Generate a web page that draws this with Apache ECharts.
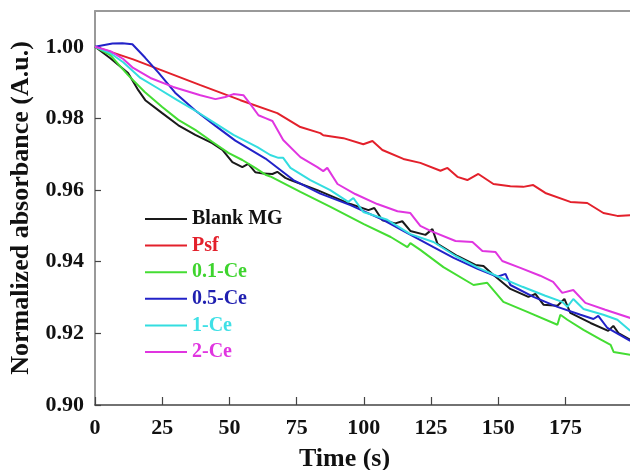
<!DOCTYPE html>
<html>
<head>
<meta charset="utf-8">
<script src="https://cdn.jsdelivr.net/npm/echarts@6/dist/echarts.min.js"></script>
<style>html,body{margin:0;padding:0;background:#fff}#c{width:630px;height:470px}</style>
</head>
<body>
<div id="c"></div>
<script>
const seriesNames = ['Blank MG', 'Psf', '0.1-Ce', '0.5-Ce', '1-Ce', '2-Ce'];
const seriesColors = ['#1a1a1a', '#e3202b', '#44dd33', '#2222c8', '#33dde0', '#e035e0'];
const legendTextColors = ['#111111', '#e3202b', '#3ed42e', '#1f1fb0', '#3fe0e6', '#e035e0'];

const xTicks = [0, 25, 50, 75, 100, 125, 150, 175];
const yTicks = [0.90, 0.92, 0.94, 0.96, 0.98, 1.00];

const blankT = [0,5.7,12.3,16.1,18.7,25.0,31.0,37.3,43.6,47.4,51.1,54.8,57.0,59.6,62.6,66.0,67.8,70.8,72.7,82.7,95.0,101.7,103.9,106.9,111.7,114.3,117.3,122.9,125.5,127.4,134.8,141.5,144.5,147.8,154.5,161.2,163.8,166.8,172.0,174.6,176.8,184.3,190.9,192.8,194.7,199.1];
const blankV = [1.000,0.9968,0.9927,0.9879,0.9851,0.9815,0.9781,0.9754,0.9731,0.9712,0.9678,0.9664,0.9673,0.9650,0.9646,0.9645,0.9651,0.9634,0.9628,0.9600,0.9561,0.9544,0.9550,0.9516,0.9507,0.9513,0.9486,0.9475,0.9491,0.9450,0.9416,0.9391,0.9388,0.9366,0.9324,0.9302,0.9310,0.9280,0.9277,0.9296,0.9257,0.9229,0.9207,0.9221,0.9201,0.9182];

const psfT = [0,14.2,39.2,54.1,67.8,76.4,83.8,84.9,92.4,99.8,103.2,106.9,114.7,121.0,128.5,131.1,134.8,138.5,142.6,148.2,154.5,159.3,163.0,167.5,176.8,183.1,189.1,194.3,199.1];
const psfV = [1.000,0.9965,0.9893,0.9851,0.9815,0.9776,0.9759,0.9753,0.9745,0.9728,0.9737,0.9712,0.9687,0.9676,0.9654,0.9662,0.9637,0.9628,0.9645,0.9617,0.9611,0.9609,0.9614,0.9592,0.9567,0.9564,0.9536,0.9528,0.9530];

const ce01T = [0,5.7,12.3,18.5,25.0,31.0,37.3,43.6,49.6,54.8,59.6,63.4,65.2,76.4,87.6,100,110,116.2,117.3,121,129.6,140.8,145.9,151.9,160.8,172.0,173.1,175.7,181.7,188.0,191.8,192.9,199.1];
const ce01V = [1.000,0.9977,0.9921,0.9874,0.9832,0.9796,0.9768,0.9735,0.9704,0.9684,0.9662,0.9643,0.9638,0.9595,0.9553,0.9505,0.9469,0.9441,0.9452,0.9433,0.9385,0.9335,0.9341,0.9288,0.9260,0.9224,0.9252,0.9238,0.9210,0.9183,0.9168,0.9148,0.9140];

const ce05T = [0,6.5,10.2,13.9,18.6,23.6,29.8,37.3,44.7,52.2,63.4,73.8,83.8,95.0,107.3,116.2,125.9,133.4,142.3,149.7,152.7,154.5,163.1,172.0,180.6,185.4,187.2,190.6,199.1];
const ce05V = [1.000,1.0009,1.0010,1.0007,0.9970,0.9928,0.9872,0.9822,0.9780,0.9738,0.9688,0.9628,0.9590,0.9558,0.9516,0.9480,0.9441,0.9411,0.9380,0.9358,0.9366,0.9335,0.9302,0.9274,0.9252,0.9240,0.9249,0.9215,0.9179];

const ce1T = [0,5.7,10.5,16.9,23.2,30.6,38.1,44.0,51.5,60.4,65.2,68.2,70.0,72.7,80.1,87.5,94.2,96.1,99.8,108.7,117.3,125.9,134.1,142.6,150.1,159.0,167.5,173.8,175.7,177.9,181.7,189.1,194.3,199.1];
const ce1V = [1.000,0.9982,0.9957,0.9913,0.9885,0.9851,0.9818,0.9790,0.9754,0.9720,0.9698,0.9690,0.9690,0.9662,0.9628,0.9600,0.9567,0.9578,0.9539,0.9517,0.9477,0.9455,0.9416,0.9383,0.9358,0.9330,0.9305,0.9288,0.9274,0.9296,0.9268,0.9252,0.9238,0.9207];

const ce2T = [0,5.7,10.5,14.2,20.6,29.1,39.2,44.8,48.5,51.5,55.2,57.8,60.8,63.4,66.0,70.0,76.4,82.7,84.9,86.4,90.2,96.8,105.0,112.5,117.3,121.0,124.8,134.1,140.4,144.1,149.0,151.5,158.2,165.6,170.4,173.8,177.9,182.4,189.8,199.1];
const ce2V = [1.000,0.9988,0.9966,0.9941,0.9913,0.9888,0.9865,0.9854,0.9860,0.9868,0.9865,0.9840,0.9809,0.9801,0.9793,0.9740,0.9692,0.9664,0.9653,0.9662,0.9617,0.9589,0.9561,0.9541,0.9536,0.9500,0.9486,0.9458,0.9455,0.9430,0.9427,0.9402,0.9383,0.9361,0.9344,0.9313,0.9321,0.9285,0.9266,0.9243];

const allT = [blankT, psfT, ce01T, ce05T, ce1T, ce2T];
const allV = [blankV, psfV, ce01V, ce05V, ce1V, ce2V];

const FONT = '"Liberation Serif", "Times New Roman", serif';
const chart = echarts.init(document.getElementById('c'), null, {renderer: 'canvas'});

const series = seriesNames.map((n, i) => ({
  name: n,
  type: 'line',
  symbol: 'none',
  smooth: false,
  clip: true,
  lineStyle: {width: 2, color: seriesColors[i]},
  itemStyle: {color: seriesColors[i]},
  data: allT[i].map((t, k) => [t, allV[i][k]])
}));

chart.setOption({
  animation: false,
  backgroundColor: '#fff',
  grid: {left: 95, right: 0, top: 11, bottom: 65, containLabel: false, outerBoundsMode: 'none'},
  legend: {
    orient: 'vertical',
    left: 140,
    top: 204,
    itemWidth: 42,
    itemHeight: 2,
    itemGap: 6.6,
    icon: 'rect',
    textStyle: {fontFamily: FONT, fontWeight: 'bold', fontSize: 20, lineHeight: 20},
    data: seriesNames.map((n, i) => ({name: n, textStyle: {color: legendTextColors[i]}}))
  },
  xAxis: [{
    type: 'value',
    min: 0,
    max: 199,
    interval: 25,
    name: 'Time (s)',
    nameLocation: 'middle',
    nameGap: 41,
    nameTextStyle: {fontFamily: FONT, fontWeight: 'bold', fontSize: 26, color: '#111', padding: [0, 36, 0, 0]},
    axisLine: {show: true, lineStyle: {color: '#444', width: 1.5}},
    axisTick: {show: true, inside: true, length: 8, customValues: xTicks, lineStyle: {color: '#444', width: 1.2}},
    axisLabel: {
      margin: 12,
      customValues: xTicks,
      fontFamily: FONT, fontWeight: 'bold', fontSize: 22, color: '#111',
      formatter: v => String(v)
    },
    splitLine: {show: false}
  }, {
    type: 'value',
    position: 'top',
    min: 0,
    max: 199,
    axisLine: {show: true, lineStyle: {color: '#999', width: 2}},
    axisTick: {show: false},
    axisLabel: {show: false},
    splitLine: {show: false}
  }],
  yAxis: {
    type: 'value',
    min: 0.90,
    max: 1.01,
    interval: 0.02,
    name: 'Normalized absorbance (A.u.)',
    nameLocation: 'middle',
    nameGap: 56,
    nameTextStyle: {fontFamily: FONT, fontWeight: 'bold', fontSize: 26, color: '#111'},
    axisLine: {show: true, lineStyle: {color: '#777', width: 1.5}},
    axisTick: {show: true, inside: true, length: 6, customValues: yTicks, lineStyle: {color: '#444', width: 1.2}},
    axisLabel: {
      margin: 11,
      customValues: yTicks,
      fontFamily: FONT, fontWeight: 'bold', fontSize: 22, color: '#111',
      formatter: v => Number(v).toFixed(2)
    },
    splitLine: {show: false}
  },
  series: series
});
</script>
</body>
</html>
